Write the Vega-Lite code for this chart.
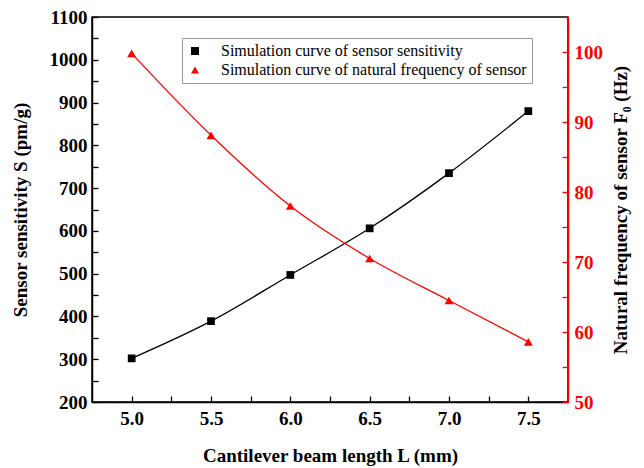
{
  "$schema": "https://vega.github.io/schema/vega-lite/v6.json",
  "width": 476,
  "height": 385,
  "autosize": "none",
  "padding": {"left": 92, "top": 17, "right": 76, "bottom": 66},
  "background": "white",
  "config": {
    "font": "Liberation Serif",
    "view": {"stroke": "black", "strokeWidth": 1.5},
    "axis": {"grid": false, "ticks": true, "zindex": 1, "labelFont": "Liberation Serif", "titleFont": "Liberation Serif", "labelFontWeight": "bold", "titleFontWeight": "bold", "labelFontSize": 19, "titleFontSize": 19, "domainWidth": 1.5, "tickWidth": 1.3},
    "legend": {"orient": "none", "legendX": 90, "legendY": 21, "strokeColor": "#999999", "padding": 5, "labelFont": "Liberation Serif", "labelFontSize": 16, "labelLimit": 400, "rowPadding": 3, "symbolSize": 64, "labelOffset": 18, "fillColor": "white", "symbolOpacity": 1}
  },
  "data": {
    "values": [
      {"L": 5.0, "series": "Simulation curve of sensor sensitivity", "value": 302},
      {"L": 5.5, "series": "Simulation curve of sensor sensitivity", "value": 389},
      {"L": 6.0, "series": "Simulation curve of sensor sensitivity", "value": 497},
      {"L": 6.5, "series": "Simulation curve of sensor sensitivity", "value": 606},
      {"L": 7.0, "series": "Simulation curve of sensor sensitivity", "value": 735},
      {"L": 7.5, "series": "Simulation curve of sensor sensitivity", "value": 880},
      {"L": 5.0, "series": "Simulation curve of natural frequency of sensor", "value": 99.8},
      {"L": 5.5, "series": "Simulation curve of natural frequency of sensor", "value": 88.1},
      {"L": 6.0, "series": "Simulation curve of natural frequency of sensor", "value": 78.0},
      {"L": 6.5, "series": "Simulation curve of natural frequency of sensor", "value": 70.5},
      {"L": 7.0, "series": "Simulation curve of natural frequency of sensor", "value": 64.5},
      {"L": 7.5, "series": "Simulation curve of natural frequency of sensor", "value": 58.6}
    ]
  },
  "encoding": {
    "x": {
      "field": "L", "type": "quantitative",
      "scale": {"domain": [4.75, 7.75], "nice": false, "zero": false},
      "axis": {
        "title": "Cantilever beam length L (mm)",
        "values": [5.0, 5.25, 5.5, 5.75, 6.0, 6.25, 6.5, 6.75, 7.0, 7.25, 7.5],
        "labelExpr": "datum.value % 0.5 === 0 ? format(datum.value, '.1f') : ''",
        "tickSize": -6,
        "labelPadding": 13, "titlePadding": 18,
        "domainColor": "black", "tickColor": "black", "labelColor": "black", "titleColor": "black"
      }
    }
  },
  "layer": [
    {
      "transform": [{"filter": "datum.series === 'Simulation curve of sensor sensitivity'"}],
      "encoding": {
        "y": {
          "field": "value", "type": "quantitative",
          "scale": {"domain": [200, 1100], "nice": false, "zero": false},
          "axis": {
            "orient": "left",
            "title": "Sensor sensitivity S (pm/g)",
            "format": "d",
            "values": [200, 250, 300, 350, 400, 450, 500, 550, 600, 650, 700, 750, 800, 850, 900, 950, 1000, 1050, 1100],
            "labelExpr": "datum.value % 100 === 0 ? datum.label : ''",
            "tickSize": -6,
            "labelPadding": 11, "titlePadding": 19,
            "domainColor": "black", "tickColor": "black", "labelColor": "black", "titleColor": "black"
          }
        }
      },
      "layer": [
        {"mark": {"type": "line", "interpolate": "monotone", "color": "black", "strokeWidth": 1.3}},
        {
          "mark": {"type": "point", "filled": true, "opacity": 1, "size": 60},
          "encoding": {
            "color": {"field": "series", "type": "nominal", "scale": {"domain": ["Simulation curve of sensor sensitivity", "Simulation curve of natural frequency of sensor"], "range": ["black", "red"]}, "legend": {"title": null}},
            "shape": {"field": "series", "type": "nominal", "scale": {"domain": ["Simulation curve of sensor sensitivity", "Simulation curve of natural frequency of sensor"], "range": ["square", "triangle-up"]}, "legend": {"title": null}}
          }
        }
      ]
    },
    {
      "transform": [{"filter": "datum.series === 'Simulation curve of natural frequency of sensor'"}],
      "encoding": {
        "y": {
          "field": "value", "type": "quantitative",
          "scale": {"domain": [50, 105], "nice": false, "zero": false},
          "axis": {
            "orient": "right",
            "title": "Natural frequency of sensor F₀ (Hz)",
            "titleAngle": 270,
            "values": [50, 55, 60, 65, 70, 75, 80, 85, 90, 95, 100, 105],
            "labelExpr": "datum.value % 10 === 0 ? datum.label : ''",
            "tickSize": -6,
            "labelPadding": 12, "titlePadding": 28,
            "domainColor": "red", "tickColor": "red", "labelColor": "red", "titleColor": "black"
          }
        }
      },
      "layer": [
        {"mark": {"type": "line", "interpolate": "monotone", "color": "red", "strokeWidth": 1.3}},
        {
          "mark": {"type": "point", "filled": true, "opacity": 1, "size": 80},
          "encoding": {
            "color": {"field": "series", "type": "nominal", "scale": {"domain": ["Simulation curve of sensor sensitivity", "Simulation curve of natural frequency of sensor"], "range": ["black", "red"]}, "legend": {"title": null}},
            "shape": {"field": "series", "type": "nominal", "scale": {"domain": ["Simulation curve of sensor sensitivity", "Simulation curve of natural frequency of sensor"], "range": ["square", "triangle-up"]}, "legend": {"title": null}}
          }
        }
      ]
    }
  ],
  "resolve": {"scale": {"y": "independent"}}
}
